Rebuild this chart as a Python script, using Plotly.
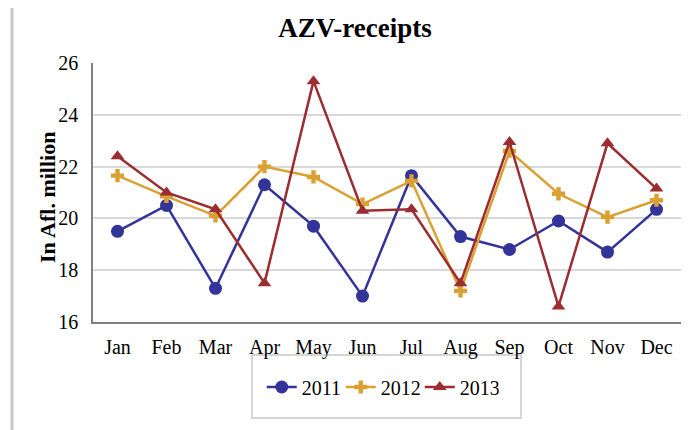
import plotly.graph_objects as go

months = ["Jan", "Feb", "Mar", "Apr", "May", "Jun", "Jul", "Aug", "Sep", "Oct", "Nov", "Dec"]
y2011 = [19.5, 20.5, 17.3, 21.3, 19.7, 17.0, 21.65, 19.3, 18.8, 19.9, 18.7, 20.35]
y2012 = [21.65, 20.85, 20.1, 22.0, 21.6, 20.55, 21.45, 17.2, 22.6, 20.95, 20.05, 20.7]
y2013 = [22.4, 21.0, 20.35, 17.5, 25.3, 20.3, 20.35, 17.5, 22.95, 16.6, 22.9, 21.15]
y_ticks = [16, 18, 20, 22, 24, 26]

FONT = "Times New Roman"

fig = go.Figure()
fig.add_trace(go.Scatter(x=months, y=y2011, name="2011", mode="lines+markers",
                         line=dict(color="#333399", width=2.5),
                         marker=dict(symbol="circle", size=13, color="#333399")))
fig.add_trace(go.Scatter(x=months, y=y2012, name="2012", mode="lines+markers",
                         line=dict(color="#DAA032", width=2.5),
                         marker=dict(symbol="cross", size=11, color="#DAA032")))
fig.add_trace(go.Scatter(x=months, y=y2013, name="2013", mode="lines+markers",
                         line=dict(color="#9B2D30", width=2.5),
                         marker=dict(symbol="triangle-up", size=12, color="#9B2D30")))

# page body has an 8px default margin, so the figure is offset by (8, 8)
W, H = 689, 422
fig.update_layout(
    width=W, height=H,
    margin=dict(l=85, r=16, t=55, b=108),
    paper_bgcolor="white", plot_bgcolor="white",
    font=dict(family=FONT, size=20, color="black"),
    title=dict(text="<b>AZV-receipts</b>", x=347 / W, xref="container", xanchor="center",
               y=1 - 20 / H, yref="container", yanchor="middle",
               font=dict(family=FONT, size=27, color="black")),
    xaxis=dict(type="category", range=[-0.5, 11.5], showgrid=False, showline=True,
               linecolor="#808080", linewidth=1.5, ticks="", ticklabelstandoff=6,
               tickfont=dict(family=FONT, size=20, color="black"), fixedrange=True),
    yaxis=dict(range=[16, 26], tickvals=y_ticks, showgrid=True, gridcolor="#D9D9D9",
               gridwidth=1.5, showline=True, linecolor="#808080", linewidth=1.5,
               zeroline=False, ticks="", ticklabelstandoff=9,
               tickfont=dict(family=FONT, size=20, color="black")),
    showlegend=True,
    legend=dict(orientation="h", x=0.287, xanchor="left", y=-0.251, yanchor="middle",
                bgcolor="rgba(0,0,0,0)", borderwidth=0, entrywidth=34,
                font=dict(family=FONT, size=20, color="black")),
    annotations=[dict(text="<b>In Afl. million</b>", textangle=-90, xref="paper", yref="paper",
                      x=(47 - 93) / 588, y=(322 - 198) / 259, xanchor="center", yanchor="middle",
                      showarrow=False, font=dict(family=FONT, size=22, color="black"))],
    shapes=[
        dict(type="rect", xref="paper", yref="paper", x0=-0.1378, x1=1.0221, y0=-0.475, y1=1.2239,
             line=dict(color="#C8C8C8", width=3), layer="below"),
        dict(type="rect", xref="paper", yref="paper", x0=0.2704, x1=0.7279, y0=-0.3707, y1=-0.1274,
             line=dict(color="#C8C8C8", width=1.5), layer="below"),
    ],
)

fig.write_html("out.html")
